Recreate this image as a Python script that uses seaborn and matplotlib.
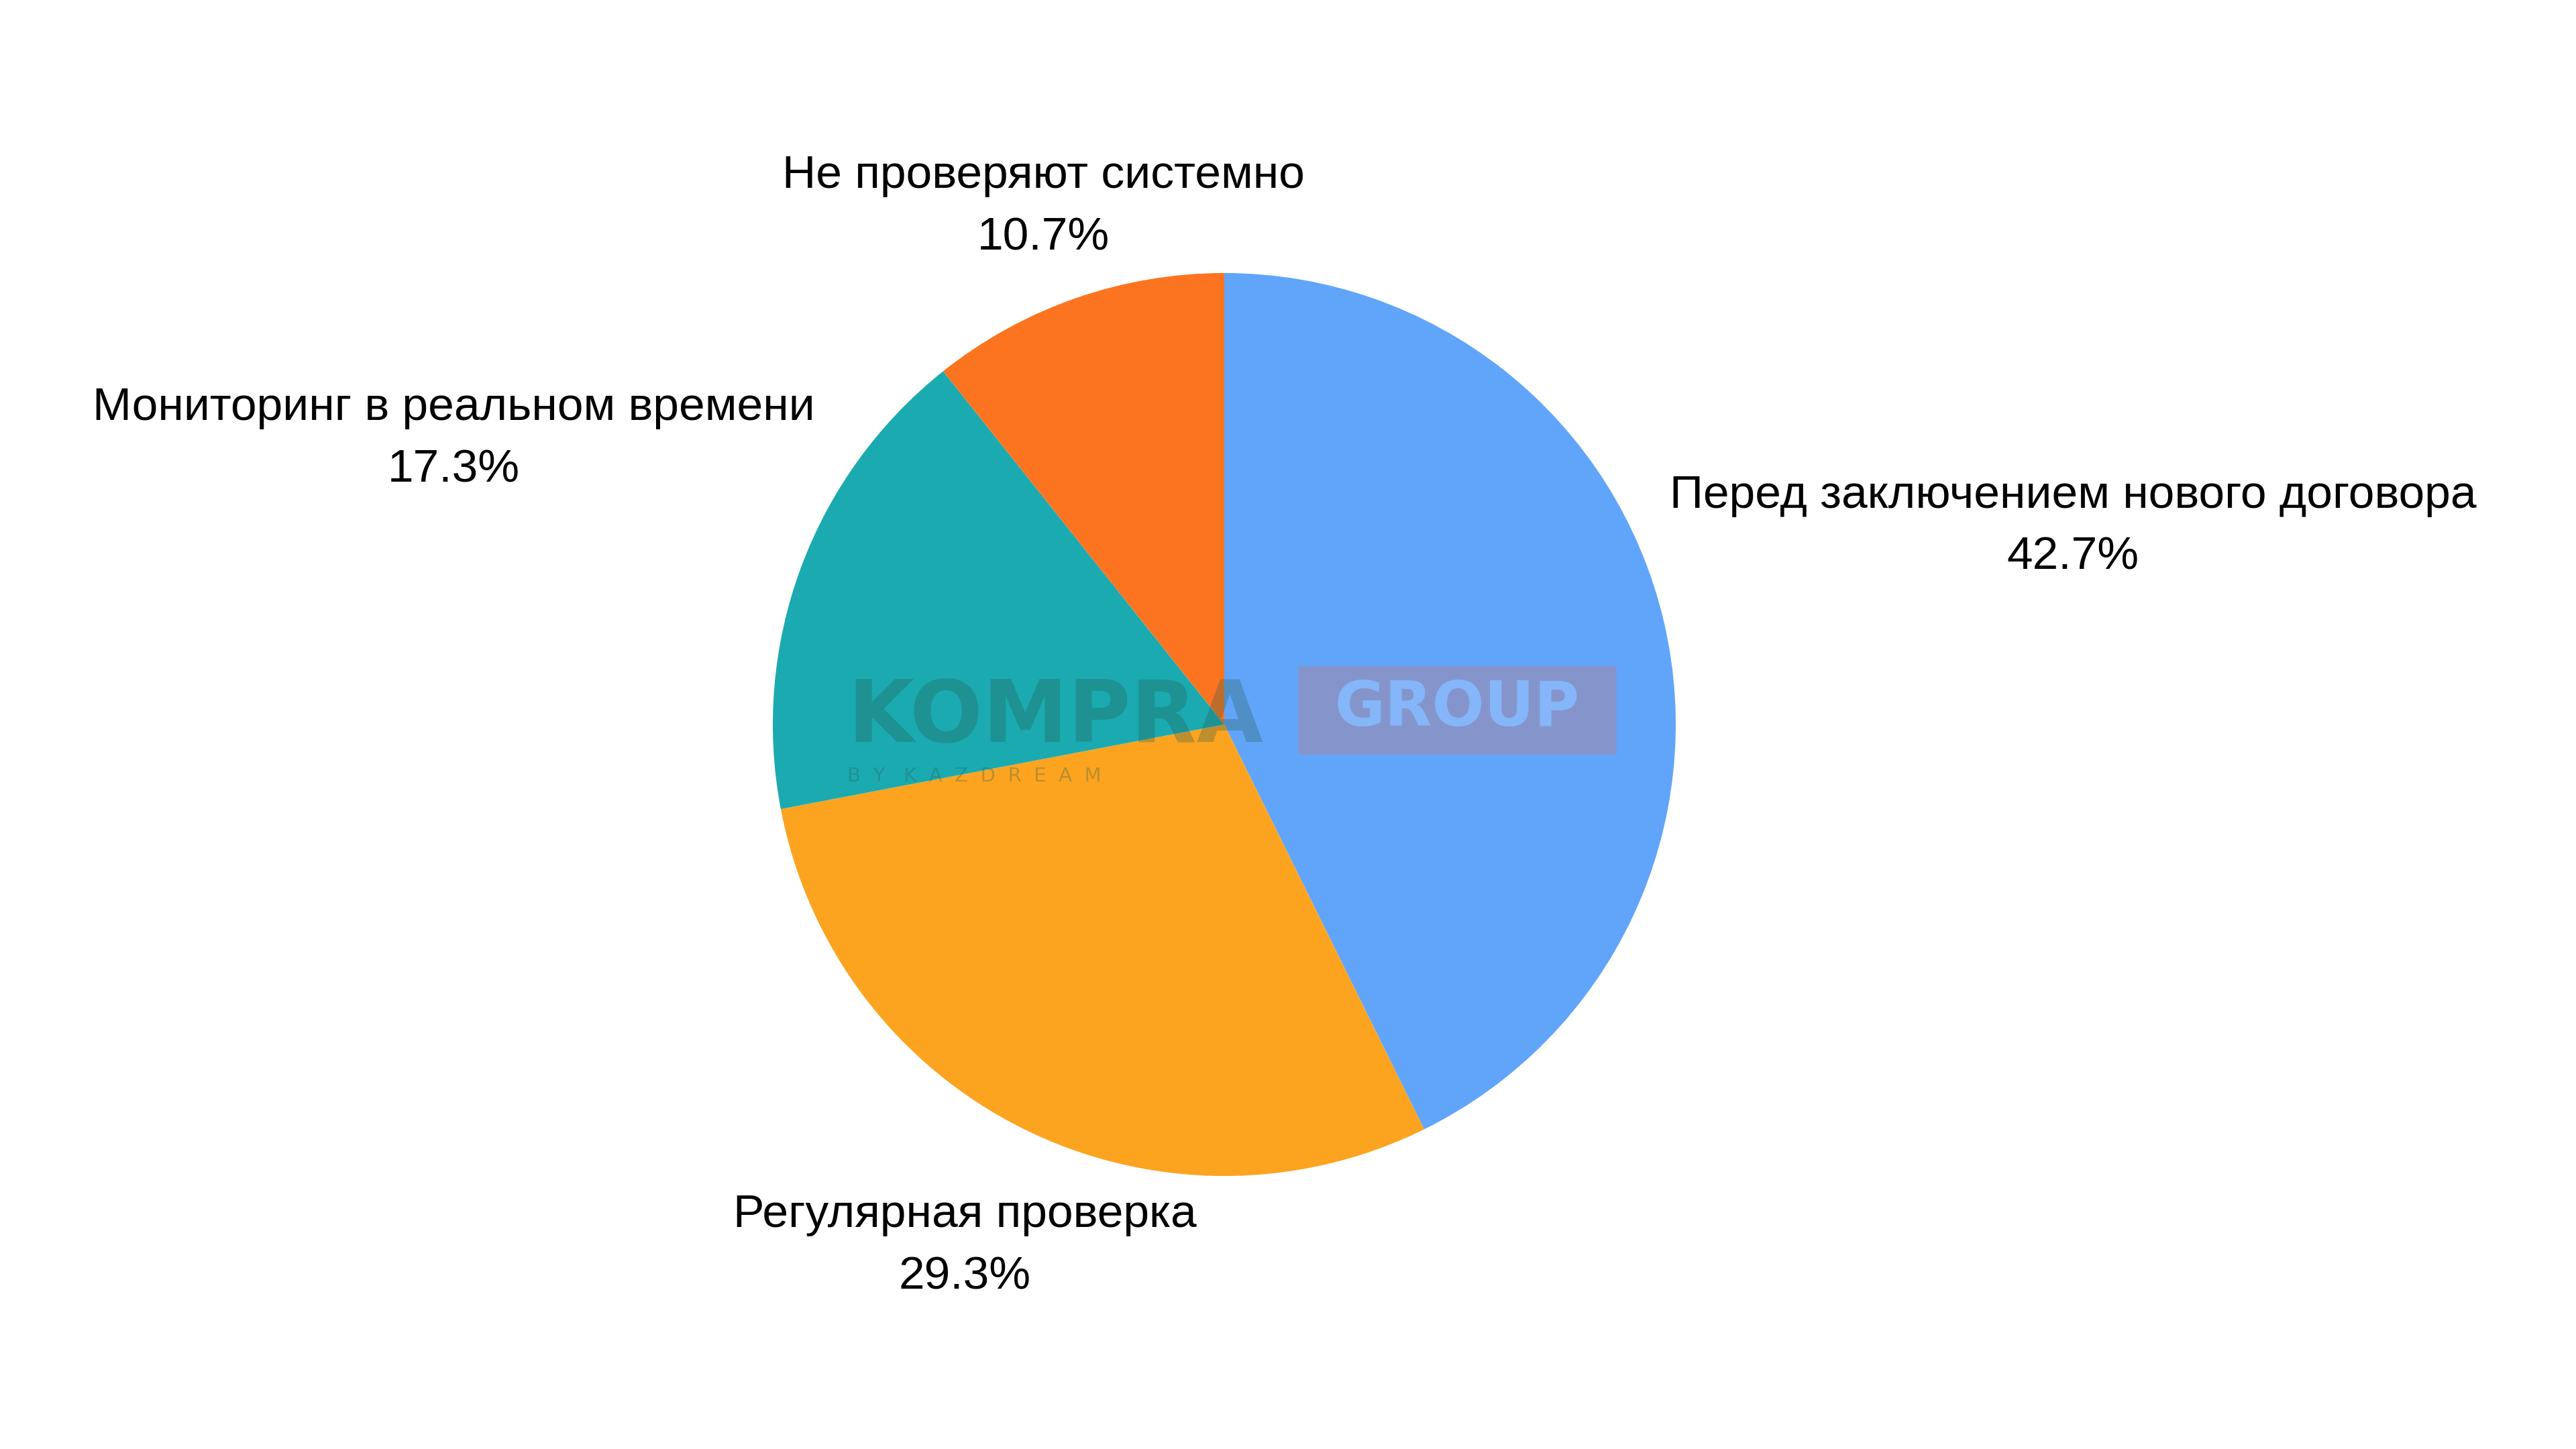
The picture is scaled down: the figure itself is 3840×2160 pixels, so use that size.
import numpy as np
import matplotlib
matplotlib.use("Agg")
import matplotlib.pyplot as plt
import seaborn as sns

# data
categories = ["Перед заключением нового договора", "Регулярная проверка",
              "Мониторинг в реальном времени", "Не проверяют системно"]
shares = [42.7, 29.3, 17.3, 10.7]
slice_colors = ["#60A5FA", "#FCA420", "#1BAAB0", "#FD7420"]
label_dist = [1.93, 1.29, 1.82, 1.215]

sns.set_theme(style="white")
plt.rcParams["font.family"] = ["Liberation Sans", "DejaVu Sans"]

fig = plt.figure(figsize=(38.4, 21.6), dpi=100)
ax = fig.add_axes([0, 0, 1, 1])

palette = sns.color_palette(slice_colors)
wedges, _ = ax.pie(shares, colors=palette, startangle=90, counterclock=False,
                   radius=1.0, wedgeprops=dict(linewidth=0, edgecolor="none"))

# labels outside the slices
for w, name, val, d in zip(wedges, categories, shares, label_dist):
    mid = np.deg2rad((w.theta1 + w.theta2) / 2)
    ax.text(d * np.cos(mid), d * np.sin(mid), f"{name}\n{val}%",
            ha="center", va="center", fontsize=50, color="black",
            multialignment="center", linespacing=1.56)

# map radius 1 to ~673 px, center at (1825, 1080)
r_px = 673
ax.set_xlim(-1825 / r_px, (3840 - 1825) / r_px)
ax.set_ylim(-1080 / r_px, 1080 / r_px)
ax.set_aspect("auto")
ax.axis("off")

# watermark
fig.text(0.3289, 0.488, "KOMPRA", fontsize=92, fontweight="bold",
         family="DejaVu Sans", color="#285D50", alpha=0.3, va="baseline")
fig.text(0.3289, 0.4606, "B  Y   K  A  Z  D  R  E  A  M", fontsize=21,
         family="DejaVu Sans", color="#285D50", alpha=0.3, va="baseline")
fig.patches.append(plt.Rectangle((0.5039, 0.4792), 0.1237, 0.0611,
                                 transform=fig.transFigure,
                                 facecolor="#DB7364", alpha=0.3,
                                 edgecolor="none"))
fig.text(0.5656, 0.5111, "GROUP", fontsize=66, fontweight="bold",
         family="DejaVu Sans", color="#84B6F9", ha="center", va="center")

fig.savefig("out.png", dpi=100, facecolor="white")
